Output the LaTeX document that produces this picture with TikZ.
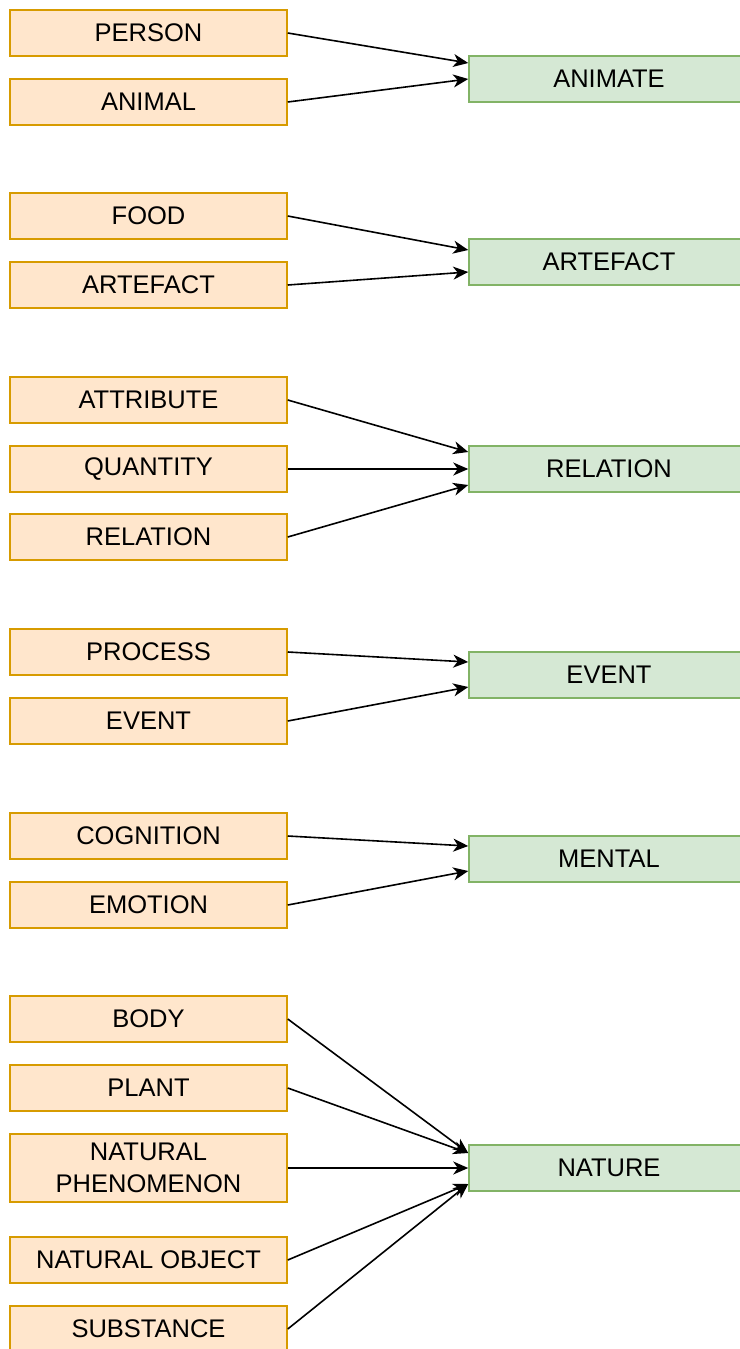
\documentclass[tikz,border=0pt]{standalone}
\usepackage{fontspec}
\setmainfont{Liberation Sans}
\usepackage{tikz}
\usetikzlibrary{arrows.meta, positioning}
\definecolor{leafline}{HTML}{D79B00}
\definecolor{leaffill}{HTML}{FFE6CC}
\definecolor{classline}{HTML}{82B366}
\definecolor{classfill}{HTML}{D5E8D4}

\begin{document}
\begin{tikzpicture}[x=1pt, y=-1pt]
\tikzstyle{leaf} = [rectangle, minimum width=277pt, minimum height=46pt, inner sep=0pt, text centered, align=center, draw=leafline, fill=leaffill, line width=1.5pt, font=\fontsize{25.5}{32}\selectfont]
\tikzstyle{sense} = [rectangle, minimum width=280pt, minimum height=46pt, inner sep=0pt, text centered, draw=classline, fill=classfill, line width=1.5pt, font=\fontsize{25.5}{32}\selectfont]
\tikzstyle{link} = [line width=1.6pt, black, -{Stealth[length=15pt, width=13pt, inset=4.5pt]}]

\useasboundingbox (0,0) rectangle (739,1349);

% Left column: fine-grained categories
\node (person)    [leaf] at (148.5,33)   {PERSON};
\node (animal)    [leaf] at (148.5,102)  {ANIMAL};
\node (food)      [leaf] at (148.5,216)  {FOOD};
\node (artefactl) [leaf] at (148.5,285)  {ARTEFACT};
\node (attribute) [leaf] at (148.5,400)  {ATTRIBUTE};
\node (quantity)  [leaf] at (148.5,469)  {QUANTITY};
\node (relationl) [leaf] at (148.5,537)  {RELATION};
\node (process)   [leaf] at (148.5,652)  {PROCESS};
\node (eventl)    [leaf] at (148.5,721)  {EVENT};
\node (cognition) [leaf] at (148.5,836)  {COGNITION};
\node (emotion)   [leaf] at (148.5,905)  {EMOTION};
\node (body)      [leaf] at (148.5,1019) {BODY};
\node (plant)     [leaf] at (148.5,1088) {PLANT};
\node (natphen)   [leaf, minimum height=68pt] at (148.5,1168) {NATURAL\\PHENOMENON};
\node (natobj)    [leaf] at (148.5,1260) {NATURAL OBJECT};
\node (substance) [leaf] at (148.5,1329) {SUBSTANCE};

% Right column: coarse classes (cut by the right margin)
\node (animate)   [sense, text width=270pt] at (609,79)   {ANIMATE};
\node (artefactr) [sense, text width=270pt] at (609,262)  {ARTEFACT};
\node (relationr) [sense, text width=270pt] at (609,469)  {RELATION};
\node (eventr)    [sense, text width=270pt] at (609,675)  {EVENT};
\node (mental)    [sense, text width=270pt] at (609,859)  {MENTAL};
\node (nature)    [sense, text width=270pt] at (609,1168) {NATURE};

% Mapping arrows
\foreach \src/\dst/\dy in {person/animate/16, animal/animate/0,
    food/artefactr/12, artefactl/artefactr/-10,
    attribute/relationr/17, quantity/relationr/0, relationl/relationr/-16,
    process/eventr/13, eventl/eventr/-12,
    cognition/mental/13, emotion/mental/-12,
    body/nature/15, plant/nature/15, natphen/nature/0,
    natobj/nature/-16, substance/nature/-16} {
    \draw[link] (\src.east) -- ([yshift=\dy pt]\dst.west);
}

\end{tikzpicture}
\end{document}
